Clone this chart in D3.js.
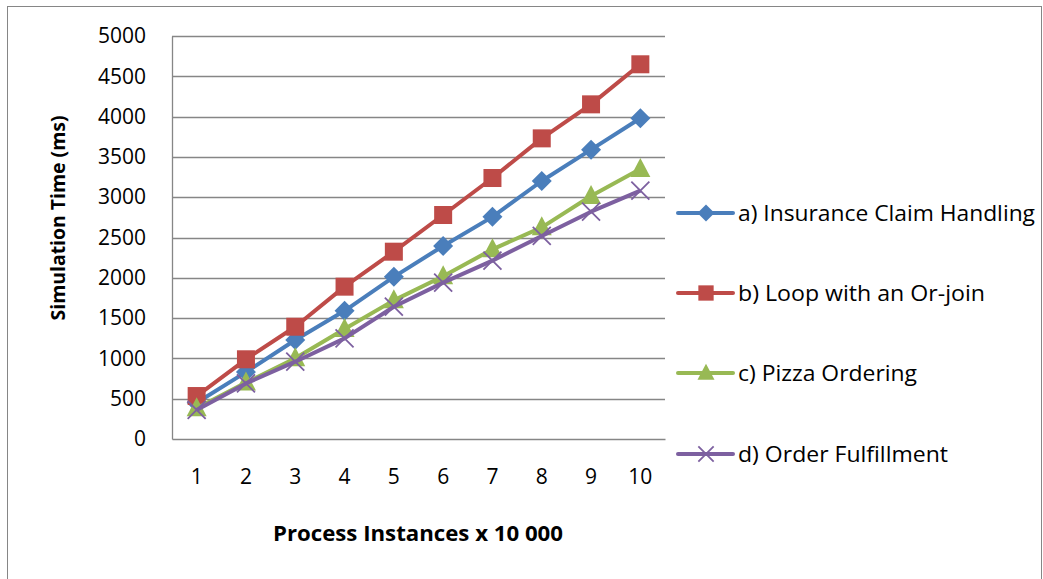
<!DOCTYPE html>
<html>
<head>
<meta charset="utf-8">
<script src="https://cdn.jsdelivr.net/npm/d3@7"></script>
<style>
  html, body { margin: 0; padding: 0; background: #fff; }
  svg { display: block; }
  text { font-family: "Open Sans", sans-serif; fill: #000; }
</style>
</head>
<body>
<svg id="chart" width="1043" height="579"></svg>
<script>
// Simulation time per workload, in ms, for 1..10 × 10 000 process instances
const instances = ["1", "2", "3", "4", "5", "6", "7", "8", "9", "10"];
const insuranceClaim = [450, 830, 1228, 1590, 2012, 2395, 2756, 3201, 3590, 3980];
const loopOrJoin = [533, 989, 1393, 1890, 2324, 2779, 3238, 3730, 4152, 4649];
const pizzaOrdering = [381, 700, 1001, 1365, 1720, 2020, 2353, 2626, 3015, 3350];
const orderFulfillment = [360, 690, 959, 1249, 1641, 1940, 2213, 2519, 2820, 3081];
const yTicks = [0, 500, 1000, 1500, 2000, 2500, 3000, 3500, 4000, 4500, 5000];

const seriesNames = [
  "a) Insurance Claim Handling",
  "b) Loop with an Or-join",
  "c) Pizza Ordering",
  "d) Order Fulfillment"
];

const series = [
  { name: seriesNames[0], values: insuranceClaim, color: "#4A7EBB", marker: "diamond" },
  { name: seriesNames[1], values: loopOrJoin, color: "#BE4B48", marker: "square" },
  { name: seriesNames[2], values: pizzaOrdering, color: "#98B954", marker: "triangle" },
  { name: seriesNames[3], values: orderFulfillment, color: "#7D60A0", marker: "cross" }
];

// Layout: rendered widths of the legend entries
const legendTextWidths = [297, 247, 179, 210];
const legendRowY = [213, 293, 373, 454];

const svg = d3.select("#chart");
const plot = { left: 172, right: 665, top: 36, bottom: 439 };
const labelFont = "21px";

// Chart frame
svg.append("rect")
  .attr("x", 7.5).attr("y", 6.5)
  .attr("width", 1034).attr("height", 600)
  .attr("fill", "none").attr("stroke", "#868686").attr("stroke-width", 1);

const x = d3.scaleBand().domain(instances).range([plot.left, plot.right]);
const y = d3.scaleLinear().domain([0, 5000]).range([plot.bottom, plot.top]);

// Horizontal gridlines
svg.append("g").selectAll("line").data(yTicks.filter(t => t > 0)).join("line")
  .attr("x1", plot.left).attr("x2", plot.right)
  .attr("y1", d => Math.round(y(d)) + 0.5).attr("y2", d => Math.round(y(d)) + 0.5)
  .attr("stroke", "#868686").attr("stroke-width", 1.3);

// Axes
const yAxis = d3.axisLeft(y).tickValues(yTicks).tickFormat(d3.format("d"))
  .tickSize(0).tickPadding(26);
const yG = svg.append("g").attr("transform", `translate(${plot.left},0)`).call(yAxis);
yG.select(".domain").attr("stroke", "#868686").attr("stroke-width", 1.3);
yG.selectAll("text").style("font-size", labelFont).style("font-family", "'Open Sans', sans-serif");

const xAxis = d3.axisBottom(x).tickSize(0).tickPadding(30);
const xG = svg.append("g").attr("transform", `translate(0,${plot.bottom})`).call(xAxis);
xG.select(".domain").attr("stroke", "#868686").attr("stroke-width", 1.3);
xG.selectAll("text").style("font-size", labelFont).style("font-family", "'Open Sans', sans-serif");

// Axis titles
svg.append("text")
  .attr("transform", "translate(65,218) rotate(-90)")
  .attr("text-anchor", "middle")
  .attr("textLength", 205).attr("lengthAdjust", "spacingAndGlyphs")
  .style("font-size", "20px").style("font-weight", "bold")
  .text("Simulation Time (ms)");

svg.append("text")
  .attr("x", 418).attr("y", 541)
  .attr("text-anchor", "middle")
  .attr("textLength", 290).attr("lengthAdjust", "spacingAndGlyphs")
  .style("font-size", "22px").style("font-weight", "bold")
  .text("Process Instances x 10 000");

// Marker shapes; k scales them down for the legend
function drawMarker(g, type, color, k = 1) {
  if (type === "diamond") {
    const r = 10 * k;
    g.append("path").attr("d", `M0,${-r}L${r},0L0,${r}L${-r},0Z`).attr("fill", color);
  } else if (type === "square") {
    const h = 9 * k;
    g.append("rect").attr("x", -h).attr("y", -h).attr("width", 2 * h).attr("height", 2 * h).attr("fill", color);
  } else if (type === "triangle") {
    g.append("path").attr("d", `M0,${-11 * k}L${10 * k},${8 * k}L${-10 * k},${8 * k}Z`).attr("fill", color);
  } else {
    const c = 9 * k;
    g.append("path").attr("d", `M${-c},${-c}L${c},${c}M${-c},${c}L${c},${-c}`)
      .attr("stroke", color).attr("stroke-width", 1.8).attr("fill", "none");
  }
}

const line = d3.line()
  .x((d, i) => x(instances[i]) + x.bandwidth() / 2)
  .y(d => y(d));

// Draw in order so the later series sit on top
series.forEach(s => {
  const g = svg.append("g");
  g.append("path").datum(s.values)
    .attr("d", line)
    .attr("fill", "none").attr("stroke", s.color)
    .attr("stroke-width", 4).attr("stroke-linejoin", "round");
  s.values.forEach((v, i) => {
    const m = g.append("g").attr("transform",
      `translate(${x(instances[i]) + x.bandwidth() / 2},${y(v)})`);
    drawMarker(m, s.marker, s.color);
  });
});

// Legend
series.forEach((s, i) => {
  const g = svg.append("g").attr("transform", `translate(678,${legendRowY[i]})`);
  g.append("line").attr("x1", 0).attr("x2", 55).attr("y1", 0).attr("y2", 0)
    .attr("stroke", s.color).attr("stroke-width", 4).attr("stroke-linecap", "round");
  const m = g.append("g").attr("transform", "translate(28,0)");
  drawMarker(m, s.marker, s.color, 0.85);
  g.append("text").attr("x", 60).attr("y", 0).attr("dy", "0.36em")
    .attr("textLength", legendTextWidths[i]).attr("lengthAdjust", "spacingAndGlyphs")
    .style("font-size", labelFont)
    .text(s.name);
});
</script>
</body>
</html>
